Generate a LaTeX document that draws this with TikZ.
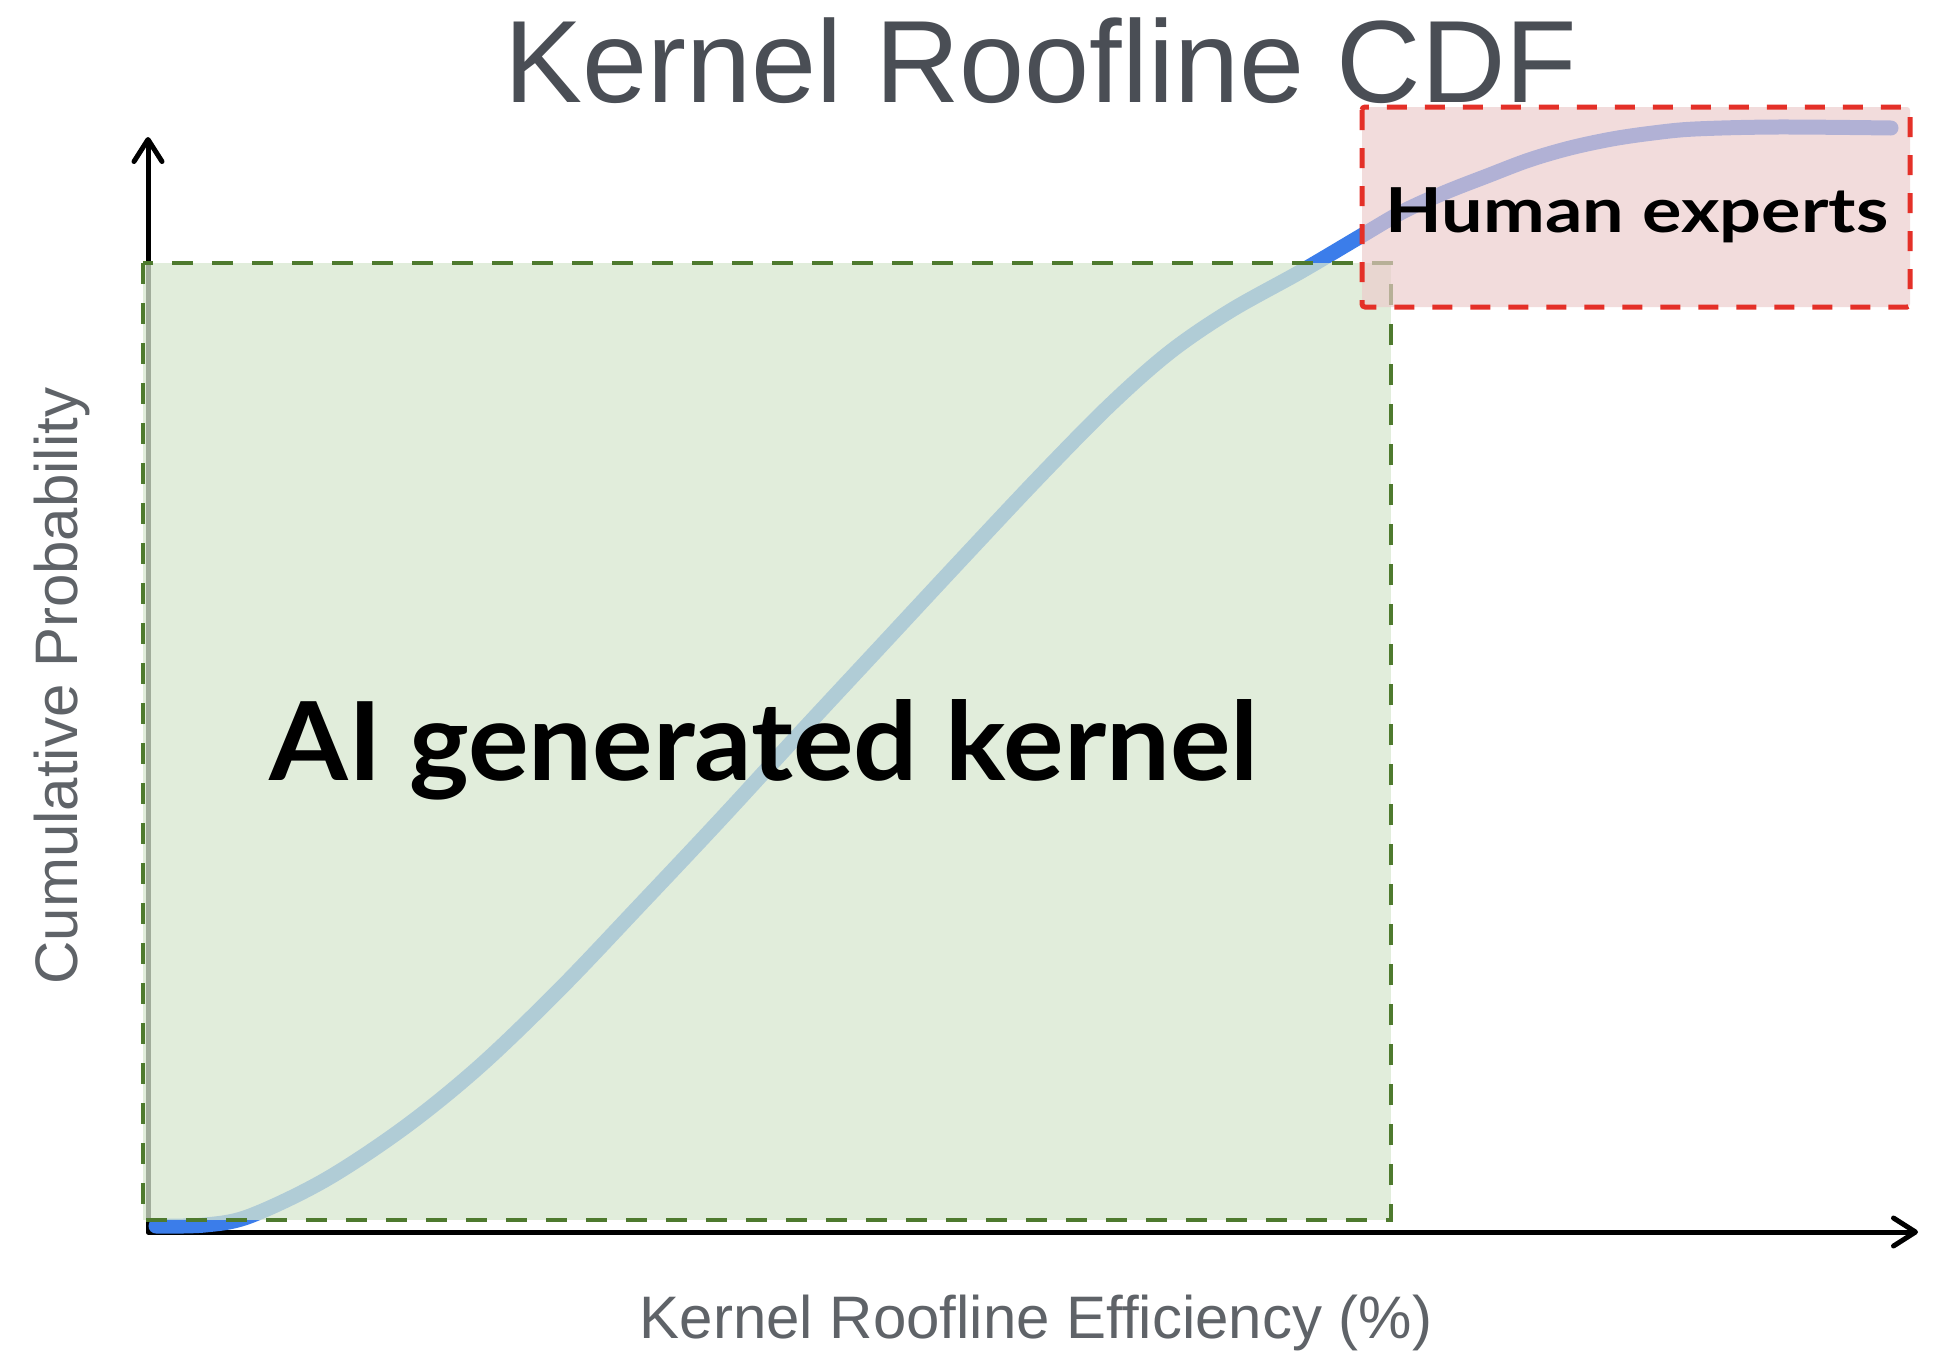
\documentclass[tikz,border=0pt]{standalone}
\usepackage{fontspec}
\setmainfont{Liberation Sans}
\newfontfamily\labfont{Lato}
\usetikzlibrary{arrows.meta}
\definecolor{titlegray}{RGB}{74,78,85}
\definecolor{axisgray}{RGB}{95,99,104}
\definecolor{curveblue}{RGB}{59,125,234}
\definecolor{greenfill}{RGB}{216,231,208}
\definecolor{greenedge}{RGB}{78,122,46}
\definecolor{redfill}{RGB}{236,204,204}
\definecolor{rededge}{RGB}{228,48,40}
\tikzset{
  axisline/.style={line width=2.5pt, line cap=round, line join=round,
    {Straight Barb[length=11pt,width=14pt,line cap=round,line join=round]}-{Straight Barb[length=11pt,width=14pt,line cap=round,line join=round]}},
  aibox/.style={fill=greenfill, fill opacity=0.75},
  aiedge/.style={draw=greenedge, line width=2pt, dash pattern=on 10.5pt off 9.5pt},
  humanbox/.style={fill=redfill, fill opacity=0.67, rounded corners=1.5pt},
  humanedge/.style={draw=rededge, line width=2.5pt, dash pattern=on 10pt off 9pt, rounded corners=1.5pt},
  bigtitle/.style={anchor=base, text=titlegray, inner sep=0pt, font=\fontsize{58.5}{62}\selectfont},
  axislabel/.style={anchor=base, text=axisgray, inner sep=0pt, font=\fontsize{30}{32}\selectfont},
  boldlabel/.style={anchor=base, text=black, inner sep=0pt},
}
\begin{document}
\begin{tikzpicture}[x=0.5pt,y=-0.5pt]
\useasboundingbox[fill=white] (0,0) rectangle (1933,1350);
% axes
\coordinate (O) at (148,1232);
\coordinate (ytip) at (148,137);
\coordinate (xtip) at (1918,1232);
\draw[axisline] (ytip) -- (O) -- (xtip);
% curve
\draw[curveblue, line width=7.5pt, line cap=round, line join=round]
  plot[smooth, tension=0.55] coordinates {(156,1226) (205,1225) (250,1216) (325,1180) (405,1127) (480,1066) (560,989) (640,905) (720,820) (800,733) (880,647) (960,561) (1040,476) (1110,405) (1170,352) (1230,311) (1300,272) (1361,236) (1404,211) (1446,192) (1487,176) (1529,160) (1570,148) (1612,139) (1653,133) (1695,129) (1777,127) (1891,128)};
% AI box
\coordinate (aiTL) at (143,263);
\coordinate (aiBR) at (1391,1220);
\path[aibox] (aiTL) rectangle (aiBR);
\path[aiedge] (aiTL) rectangle (aiBR);
% human box
\coordinate (huTL) at (1362,107);
\coordinate (huBR) at (1910,307);
\path[humanbox] (huTL) rectangle (huBR);
\path[humanedge] (huTL) rectangle (huBR);
% texts
\node[bigtitle] (title) at (1041,102) {Kernel Roofline CDF};
\node[axislabel] (xlab) at (1036,1338) {Kernel Roofline Efficiency (\%)};
\node[axislabel, rotate=90] (ylab) at (77,686) {Cumulative Probability};
\node[boldlabel, font=\labfont\bfseries\fontsize{54.5}{56}\selectfont] (ai) at (764,780) {\scalebox{1.04}[1]{AI generated kernel}};
\node[boldlabel, font=\labfont\bfseries\fontsize{31}{33}\selectfont] (human) at (1637,232) {\scalebox{1.19}[1]{Human experts}};
\end{tikzpicture}
\end{document}
